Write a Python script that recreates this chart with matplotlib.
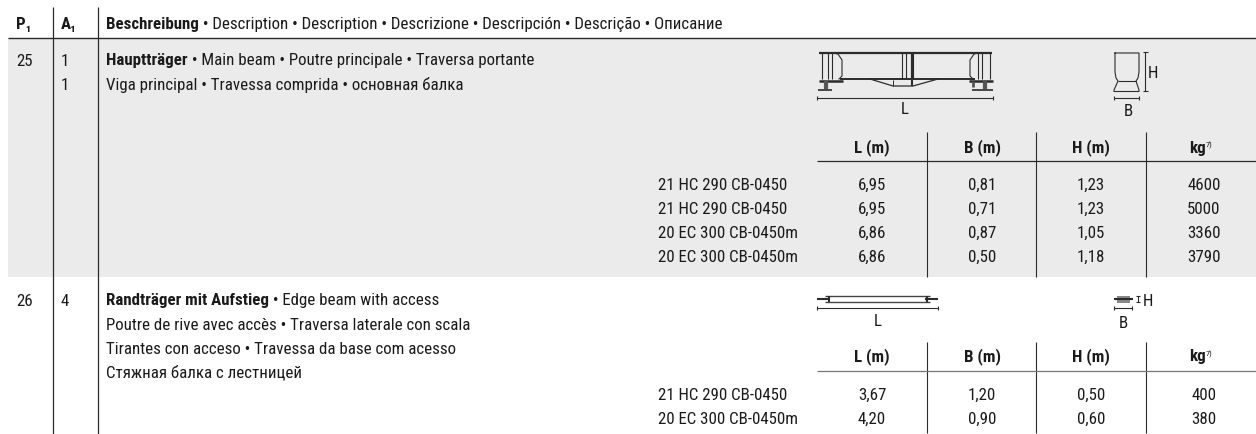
# Parts table: two beam rows with small dimension tables
import matplotlib
matplotlib.use('Agg')
import matplotlib.pyplot as plt
from matplotlib.patches import Rectangle

FONT = ['Roboto Condensed', 'Roboto', 'DejaVu Sans']
DARK = '#2b2b2b'
GREY = '#ebebeb'
FS = 12.15

header_p = 'P₁'
header_a = 'A₁'
header_bold = 'Beschreibung'
header_rest = ' • Description • Description • Descrizione • Descripción • Descrição • Описание'

row_numbers = ['25', '26']
row_amounts = [['1', '1'], ['4']]
row1_bold = 'Hauptträger'
row1_lines = [' • Main beam • Poutre principale • Traversa portante',
              'Viga principal • Travessa comprida • основная балка']
row2_bold = 'Randträger mit Aufstieg'
row2_lines = [' • Edge beam with access',
              'Poutre de rive avec accès • Traversa laterale con scala',
              'Tirantes con acceso • Travessa da base com acesso',
              'Стяжная балка с лестницей']

col_heads = ['L (m)', 'B (m)', 'H (m)', 'kg']
row1_models = ['21 HC 290 CB-0450', '21 HC 290 CB-0450', '20 EC 300 CB-0450m', '20 EC 300 CB-0450m']
row1_L = ['6,95', '6,95', '6,86', '6,86']
row1_B = ['0,81', '0,71', '0,87', '0,50']
row1_H = ['1,23', '1,23', '1,05', '1,18']
row1_kg = ['4600', '5000', '3360', '3790']
row2_models = ['21 HC 290 CB-0450', '20 EC 300 CB-0450m']
row2_L = ['3,67', '4,20']
row2_B = ['1,20', '0,90']
row2_H = ['0,50', '0,60']
row2_kg = ['400', '380']

fig = plt.figure(figsize=(12.56, 4.34), dpi=100)
ax = fig.add_axes([0, 0, 1, 1])
ax.set_xlim(0, 1256)
ax.set_ylim(434, 0)
ax.axis('off')


def txt(x, y, s, **kw):
    kw.setdefault('fontsize', FS)
    kw.setdefault('color', '#1a1a1a')
    kw.setdefault('va', 'center')
    return ax.text(x, y, s, family=FONT, **kw)


def bold_then(x, y, bold, rest):
    # bold start followed by regular text on the same line
    t = txt(x, y, bold, fontweight='bold')
    w = t.get_window_extent(fig.canvas.get_renderer()).width
    txt(x + w, y, rest)


def line(x0, x1, y0, y1, lw=0.9, c=DARK):
    ax.plot([x0, x1], [y0, y1], color=c, lw=lw, solid_capstyle='butt')


def dim_table(top, head_y, rule_y, first_y, bottom, rule_c, models, L, B, H, kg):
    for x in [927, 1036, 1146]:
        line(x, x, top, bottom, lw=0.8)
    line(817, 1256, rule_y, rule_y, lw=0.9, c=rule_c)
    for x, s in zip([872, 982, 1091], col_heads[:3]):
        txt(x, head_y, s, fontweight='bold', ha='center')
    txt(1197, head_y, col_heads[3], fontweight='bold', ha='center')
    txt(1206, head_y - 3, '7)', fontsize=6)
    for i, m in enumerate(models):
        y = first_y + i * 24
        txt(658, y, m)
        txt(872, y, L[i], ha='center')
        txt(982, y, B[i], ha='center')
        txt(1091, y, H[i], ha='center')
        txt(1204, y, kg[i], ha='center')


# background and main rules
ax.add_patch(Rectangle((8, 38), 1248, 239, color=GREY, lw=0))
line(8, 1256, 37.5, 37.5, lw=1.0)
line(53, 53, 7, 434, lw=0.9)
line(98, 98, 7, 434, lw=0.9)

# header
txt(16, 24, header_p, fontweight='bold')
txt(61, 24, header_a, fontweight='bold')
bold_then(106, 24, header_bold, header_rest)

# row 25
txt(16, 61, row_numbers[0])
txt(61, 61, row_amounts[0][0])
txt(61, 85, row_amounts[0][1])
bold_then(106, 61, row1_bold, row1_lines[0])
txt(106, 85, row1_lines[1])
dim_table(132, 148, 161, 185, 277, DARK, row1_models, row1_L, row1_B, row1_H, row1_kg)

# row 26
txt(16, 301, row_numbers[1])
txt(61, 301, row_amounts[1][0])
bold_then(106, 301, row2_bold, row2_lines[0])
txt(106, 325, row2_lines[1])
txt(106, 349, row2_lines[2])
txt(106, 373, row2_lines[3])
dim_table(342, 357, 371, 395, 433, '#777777', row2_models, row2_L, row2_B, row2_H, row2_kg)

# main beam sketch
line(819, 992, 52.5, 52.5, lw=1.6)
line(840, 975, 79, 79, lw=1.4)
for x in [822, 828, 832, 902, 906, 911, 913, 978, 982, 990]:
    line(x, x, 53, 79, lw=0.8)
line(912, 912, 53, 86, lw=1.5)
ax.plot([870, 893, 913, 938], [79, 86, 86, 79], color=DARK, lw=0.9)
line(893, 893, 80, 86, lw=0.7)
ax.plot([832, 838, 842, 842, 839], [53, 54, 60, 76, 79], color=DARK, lw=0.8)
ax.plot([979, 974, 970, 970, 973], [53, 54, 60, 76, 79], color=DARK, lw=0.8)
line(819, 843, 80.5, 80.5, lw=1.8)
line(969, 993, 80.5, 80.5, lw=1.8)
line(826, 826, 81, 89, lw=3.0, c='#555555')
line(985, 985, 81, 89, lw=3.0, c='#555555')
line(973, 973, 81, 87, lw=2.0, c='#555555')
line(818, 832, 89.5, 89.5, lw=1.2)
line(972, 993, 89.5, 89.5, lw=1.2)
line(817, 993, 97.5, 97.5, lw=0.8)
for x in [817, 993]:
    line(x, x, 95.5, 99.5, lw=0.8)
txt(905, 110, 'L', ha='center')

# main beam section
ax.plot([1115, 1115, 1116, 1118, 1114, 1114, 1139, 1139, 1136, 1138, 1139, 1139, 1115],
        [53, 72, 78, 81, 90, 91.5, 91.5, 90, 81, 78, 72, 53, 53], color=DARK, lw=0.8)
line(1118, 1136, 81, 81, lw=0.8)
line(1145, 1145, 52, 91, lw=0.8)
for y in [52, 91]:
    line(1142.5, 1147.5, y, y, lw=0.8)
txt(1153, 73, 'H', ha='center')
line(1114, 1139, 97.5, 97.5, lw=0.8)
for x in [1114, 1139]:
    line(x, x, 95.5, 99.5, lw=0.8)
txt(1128, 111, 'B', ha='center')

# edge beam sketch
line(825, 930, 296, 296, lw=1.0, c='#444444')
line(825, 930, 302, 302, lw=1.0, c='#444444')
line(817, 830, 298.5, 298.5, lw=1.5)
line(925, 938, 298.5, 298.5, lw=1.5)
line(829, 829, 296, 302, lw=1.5)
line(927, 927, 296, 302, lw=1.5)
line(817, 938, 308, 308, lw=0.8)
for x in [817, 938]:
    line(x, x, 306, 310, lw=0.8)
txt(878, 322, 'L', ha='center')

# edge beam section
ax.add_patch(Rectangle((1117, 296), 13, 6.5, color='#888888', lw=0))
line(1114, 1133, 298.5, 298.5, lw=1.5)
line(1138, 1138, 296, 302, lw=0.8)
for y in [296, 302]:
    line(1136, 1140, y, y, lw=0.8)
txt(1148, 301, 'H', ha='center')
line(1114, 1132, 308, 308, lw=0.8)
for x in [1114, 1132]:
    line(x, x, 306, 310, lw=0.8)
txt(1123, 323, 'B', ha='center')

fig.savefig('out.png', dpi=100)
